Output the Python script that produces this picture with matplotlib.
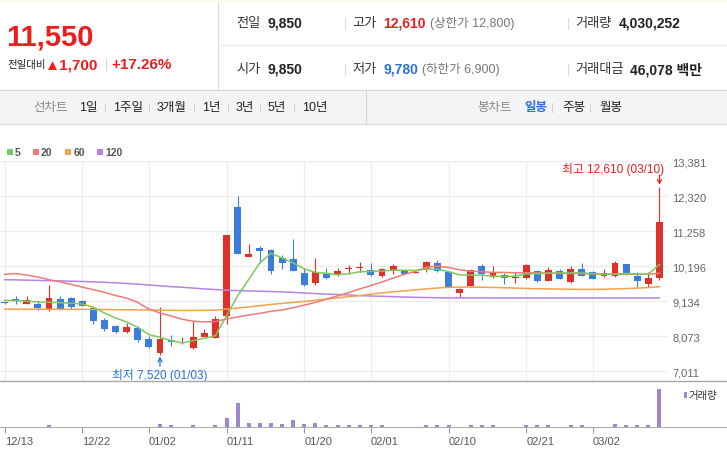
import matplotlib
matplotlib.use('Agg')
import matplotlib.pyplot as plt
from matplotlib.patches import Rectangle
from matplotlib.lines import Line2D
import numpy as np

plt.rcParams['font.family'] = ['Liberation Sans', 'Noto Sans CJK KR']

# daily candles, 12/13 .. 03/10
dates = ['12/13', '12/14', '12/15', '12/16', '12/19', '12/20', '12/21', '12/22', '12/23', '12/26',
         '12/27', '12/28', '12/29', '01/02', '01/03', '01/04', '01/05', '01/06', '01/09', '01/10',
         '01/11', '01/12', '01/13', '01/16', '01/17', '01/18', '01/19', '01/20', '01/25', '01/26',
         '01/27', '01/30', '01/31', '02/01', '02/02', '02/03', '02/06', '02/07', '02/08', '02/09',
         '02/10', '02/13', '02/14', '02/15', '02/16', '02/17', '02/20', '02/21', '02/22', '02/23',
         '02/24', '02/27', '02/28', '03/02', '03/03', '03/06', '03/07', '03/08', '03/09', '03/10']
opens = [9110, 9200, 9060, 9060, 8880, 9210, 9240, 9150, 8930, 8580,
         8380, 8190, 8330, 8000, 7560, 7970, 7860, 7710, 8060, 8030,
         8680, 12000, 10480, 10760, 10690, 10440, 10410, 9990, 9680, 9980,
         9920, 10110, 10130, 10090, 9910, 10090, 10080, 9980, 10120, 10290,
         10010, 9400, 9610, 10200, 9860, 9930, 9830, 9830, 10060, 9760,
         10060, 9720, 10110, 10020, 9890, 9890, 10260, 9910, 9660, 9850]
highs = [9140, 9310, 9290, 9130, 9620, 9310, 9250, 9160, 8940, 8630,
         8430, 8470, 8380, 8070, 8950, 8110, 8040, 8550, 8300, 8700,
         11160, 12320, 10860, 10800, 10720, 10540, 11020, 10130, 10440, 10130,
         10140, 10240, 10340, 10300, 10140, 10270, 10090, 10090, 10370, 10390,
         10030, 9540, 10110, 10280, 10220, 9990, 10010, 10260, 10090, 10180,
         10110, 10220, 10290, 10060, 10110, 10360, 10270, 10020, 10010, 12610]
lows = [9050, 9050, 9050, 8860, 8850, 8860, 8910, 8980, 8460, 8240,
        8170, 8180, 7900, 7720, 7520, 7770, 7850, 7690, 8050, 8020,
        8450, 10560, 10470, 10300, 9970, 10120, 10040, 9590, 9630, 9810,
        9900, 9960, 10010, 9910, 9880, 9960, 9950, 9980, 10010, 10030,
        9570, 9260, 9600, 9770, 9840, 9670, 9700, 9820, 9720, 9740,
        9800, 9700, 9900, 9810, 9880, 9870, 9930, 9570, 9570, 9780]
closes = [9090, 9130, 9170, 8930, 9230, 8880, 8950, 8990, 8550, 8300,
          8190, 8350, 7970, 7740, 8000, 7890, 7910, 8040, 8170, 8600,
          11150, 10570, 10560, 10670, 10060, 10300, 10060, 9630, 10030, 9840,
          10050, 10150, 10170, 9940, 10120, 10220, 9960, 10010, 10340, 10060,
          9580, 9520, 10090, 9970, 9990, 9830, 9860, 10240, 9740, 10080,
          9810, 10110, 9910, 9820, 9990, 10310, 9930, 9760, 9850, 11550]
volumes = [20000, 20000, 20000, 20000, 180000, 20000, 20000, 20000, 20000, 20000,
           20000, 20000, 20000, 20000, 280000, 180000, 20000, 180000, 20000, 180000,
           920000, 2560000, 390000, 390000, 390000, 280000, 700000, 280000, 390000, 180000,
           180000, 180000, 180000, 180000, 180000, 20000, 20000, 20000, 180000, 180000,
           180000, 20000, 180000, 180000, 180000, 20000, 20000, 180000, 180000, 180000,
           20000, 180000, 180000, 20000, 20000, 300000, 180000, 180000, 180000, 4030252]

ma5 = [9164, 9154, 9134, 9114, 9104, 9094, 9073, 9053, 8952, 8780,
       8628, 8507, 8345, 8123, 8042, 7941, 7870, 7941, 8012, 8093,
       8700, 9300, 9800, 10300, 10590, 10450, 10300, 10115, 10014, 9980,
       9940, 9970, 10030, 10040, 10050, 10080, 10075, 10070, 10115, 10105,
       10035, 9935, 9930, 9925, 9900, 9886, 9896, 9966, 9976, 9985,
       9985, 9995, 9995, 9975, 9945, 9965, 9975, 9965, 9955, 10256]
ma20 = [9950, 9975, 9930, 9870, 9790, 9725, 9645, 9565, 9485, 9405,
        9310, 9230, 9100, 8900, 8780, 8690, 8590, 8530, 8510, 8520,
        8600, 8660, 8720, 8770, 8830, 8870, 8940, 9020, 9100, 9200,
        9300, 9400, 9510, 9610, 9720, 9840, 9950, 10040, 10170, 10200,
        10160, 10090, 10050, 10030, 10010, 10010, 10000, 10000, 9995, 9990,
        9985, 9980, 9975, 9965, 9955, 9955, 9955, 9955, 9955, 9985]
ma60 = [8895, 8895, 8895, 8895, 8895, 8892, 8890, 8890, 8888, 8885,
        8880, 8878, 8875, 8870, 8865, 8860, 8858, 8858, 8860, 8865,
        8900, 8930, 8965, 9000, 9040, 9070, 9100, 9130, 9165, 9200,
        9240, 9275, 9310, 9350, 9390, 9420, 9450, 9480, 9510, 9540,
        9555, 9565, 9565, 9560, 9555, 9545, 9535, 9525, 9515, 9510,
        9505, 9500, 9495, 9495, 9500, 9510, 9520, 9535, 9550, 9580]
ma120 = [9790, 9785, 9775, 9770, 9760, 9755, 9745, 9735, 9725, 9710,
         9695, 9675, 9655, 9630, 9605, 9580, 9560, 9535, 9510, 9490,
         9470, 9460, 9450, 9440, 9430, 9420, 9405, 9385, 9370, 9350,
         9340, 9328, 9306, 9295, 9285, 9275, 9265, 9255, 9248, 9242,
         9238, 9237, 9236, 9236, 9235, 9235, 9235, 9235, 9235, 9235,
         9235, 9235, 9235, 9235, 9235, 9235, 9235, 9235, 9235, 9235]

price_ticks = [13381, 12320, 11258, 10196, 9134, 8073, 7011]
date_ticks = ['12/13', '12/22', '01/02', '01/11', '01/20', '02/01', '02/10', '02/21', '03/02']
ma_names = ['5', '20', '60', '120']
upper_limit = 12800
lower_limit = 6900
turnover = '46,078'

W, H = 727, 464
RED = '#e0302a'
BLUE = '#3b7ddd'
TXT_RED = '#ee1c1c'
TXT_BLUE = '#2a6fdb'
MA_COLORS = ['#7cc95e', '#f07a7a', '#f5a04a', '#b884e0']
VOL_COLOR = '#9f86cf'

fig = plt.figure(figsize=(W / 100, H / 100), dpi=100)


def box(l, t, r, b):
    return [l / W, 1 - b / H, (r - l) / W, (b - t) / H]


bg = fig.add_axes([0, 0, 1, 1])
bg.set_xlim(0, W)
bg.set_ylim(H, 0)
bg.axis('off')

# header
last, prev = closes[-1], closes[-2]
diff = last - prev
bg.add_patch(Rectangle((0, 0), W, 3, color='#fbf9ef', lw=0))
bg.plot([218, 218], [3, 90], color='#dcdcdc', lw=0.8)
bg.plot([218, W], [46, 46], color='#ececec', lw=0.8)
bg.text(6, 37, f'{last:,}', color=TXT_RED, fontsize=21, fontweight='bold', va='center')
bg.text(7, 65, '전일대비', fontsize=7.5, color='#222', va='center')
bg.text(45, 65, f'▲{diff:,}', fontsize=11, fontweight='bold', color=TXT_RED, va='center')
bg.text(105, 65, '|', fontsize=9, color='#cccccc', va='center')
bg.text(111, 65, f'+{diff / prev * 100:.2f}%', fontsize=11, fontweight='bold', color=TXT_RED, va='center')

rows = [
    (24, '전일', f'{prev:,}', '고가', f'{highs[-1]:,}', TXT_RED, f'(상한가 {upper_limit:,})', 430,
     '거래량', f'{volumes[-1]:,}', 619),
    (70, '시가', f'{opens[-1]:,}', '저가', f'{lows[-1]:,}', TXT_BLUE, f'(하한가 {lower_limit:,})', 422,
     '거래대금', f'{turnover} 백만', 630),
]
for y, l1, v1, l2, v2, c2, note, nx, l3, v3, x3 in rows:
    bg.text(236, y, l1, fontsize=9.5, color='#333', va='center')
    bg.text(268, y, v1, fontsize=10, fontweight='bold', color='#222', va='center')
    bg.text(344, y, '|', fontsize=9, color='#d5d5d5', va='center')
    bg.text(352, y, l2, fontsize=9.5, color='#333', va='center')
    bg.text(383, y, v2, fontsize=10, fontweight='bold', color=c2, va='center')
    bg.text(nx, y, note, fontsize=9, color='#777', va='center')
    bg.text(567, y, '|', fontsize=9, color='#d5d5d5', va='center')
    bg.text(575, y, l3, fontsize=9.5, color='#333', va='center')
    bg.text(x3, y, v3, fontsize=10, fontweight='bold', color='#222', va='center')

# toolbar
bg.add_patch(Rectangle((0, 90.5), W, 34, facecolor='#f3f4f6', edgecolor='none'))
bg.plot([0, W], [90.5, 90.5], color='#d5d5d5', lw=0.8)
bg.plot([0, W], [124.5, 124.5], color='#d5d5d5', lw=0.8)
bg.plot([366, 366], [90.5, 124.5], color='#d5d5d5', lw=0.8)
bg.text(33, 108, '선차트', fontsize=9, color='#888', va='center')
periods = [('1일', 79), ('1주일', 113), ('3개월', 157), ('1년', 202), ('3년', 236), ('5년', 268), ('10년', 302)]
for i, (s, px) in enumerate(periods):
    bg.text(px, 108, s, fontsize=9, color='#222', va='center')
    if i > 0:
        bg.text(px - 9, 108, '|', fontsize=8, color='#cccccc', va='center')
bg.text(477, 108, '봉차트', fontsize=9, color='#888', va='center')
bg.text(524, 108, '일봉', fontsize=9, fontweight='bold', color=TXT_BLUE, va='center')
bg.text(551, 108, '|', fontsize=8, color='#cccccc', va='center')
bg.text(562, 108, '주봉', fontsize=9, color='#222', va='center')
bg.text(589, 108, '|', fontsize=8, color='#cccccc', va='center')
bg.text(599, 108, '월봉', fontsize=9, color='#222', va='center')

# moving average legend
for name, col, lx in zip(ma_names, MA_COLORS, [6.5, 32.5, 65, 97]):
    bg.add_patch(Rectangle((lx, 149.5), 6, 6, color=col, lw=0))
    bg.text(lx + 8.5, 152.8, name, fontsize=7.5, fontweight='bold', color='#555', va='center')

# price panel
x = np.arange(len(dates))
o = np.array(opens)
c = np.array(closes)
cols = np.where(c >= o, RED, BLUE)
tick_pos = [dates.index(d) for d in date_ticks]

ax = fig.add_axes(box(0, 162.3, 668, 382))
ax.set_facecolor('none')
ax.set_xlim(-0.414, 59.77)
ax.set_ylim(6717, 13381)
ax.vlines(x, lows, highs, colors=cols, linewidth=0.8, zorder=2)
ax.bar(x, np.abs(c - o), bottom=np.minimum(o, c), width=0.62, color=cols, zorder=2)
for vals, col in zip([ma120, ma60, ma20, ma5], MA_COLORS[::-1]):
    ax.plot(x, vals, color=col, lw=1.1, zorder=3)
ax.set_yticks(price_ticks)
ax.set_yticklabels([f'{v:,}' for v in price_ticks])
ax.yaxis.tick_right()
ax.tick_params(axis='y', length=0, pad=3, labelsize=8, labelcolor='#666')
ax.set_xticks(tick_pos)
ax.tick_params(axis='x', length=0, labelbottom=False)
ax.grid(color='#ececec', lw=0.8)
ax.set_axisbelow(True)
for s in ax.spines.values():
    s.set_visible(False)

ih = int(np.argmax(highs))
il = int(np.argmin(lows))
ax.text(ih + 0.4, 13177, f'최고 {highs[ih]:,} ({dates[ih]})', ha='right', va='center',
        color=TXT_RED, fontsize=8.5)
ax.annotate('', xy=(ih, highs[ih] + 60), xytext=(ih, 12960),
            arrowprops=dict(arrowstyle='->', color=TXT_RED, lw=0.9, mutation_scale=7,
                            shrinkA=0, shrinkB=0))
ax.text(il, 6929, f'최저 {lows[il]:,} ({dates[il]})', ha='center', va='center',
        color=TXT_BLUE, fontsize=8.5)
ax.annotate('', xy=(il, lows[il] - 60), xytext=(il, 7170),
            arrowprops=dict(arrowstyle='->', color=TXT_BLUE, lw=0.9, mutation_scale=7,
                            shrinkA=0, shrinkB=0))

# volume panel
vax = fig.add_axes(box(0, 383, 668, 428))
vax.set_facecolor('none')
vax.bar(x, volumes, width=0.36, color=VOL_COLOR)
vax.set_xlim(-0.414, 59.77)
vax.set_ylim(0, 4.73e6)
vax.set_yticks([])
vax.set_xticks(tick_pos)
vax.set_xticklabels(date_ticks, ha='left')
vax.tick_params(axis='x', length=4, width=0.8, color='#999', pad=2.5, labelsize=8,
                labelcolor='#555', direction='out')
for s in vax.spines.values():
    s.set_visible(False)

bg.add_patch(Rectangle((684, 392.5), 2.5, 6.5, color=VOL_COLOR, lw=0))
bg.text(688.5, 395.8, '거래량', fontsize=7.5, color='#333', va='center')

fig.add_artist(Line2D([0, 1], [1 - 382 / H] * 2, color='#a8a8a8', lw=1))
fig.add_artist(Line2D([0, 1], [1 - 428 / H] * 2, color='#b0b0b0', lw=0.8))

fig.savefig('out.png', dpi=100)
